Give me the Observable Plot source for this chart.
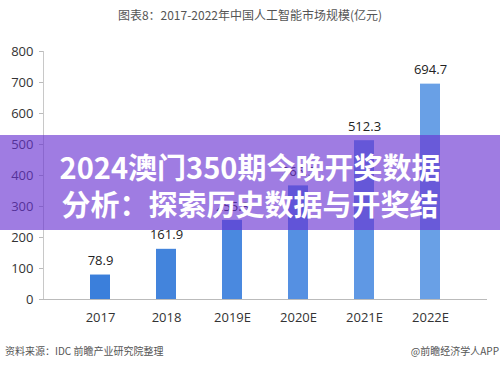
<!DOCTYPE html>
<html><head><meta charset="utf-8">
<script src="https://cdn.jsdelivr.net/npm/d3@7"></script>
<script src="https://cdn.jsdelivr.net/npm/@observablehq/plot@0.6"></script>
<style>
body{margin:0;background:#fff;}
#wrap{position:relative;width:500px;height:367px;overflow:hidden;font-family:"Noto Sans CJK SC","Noto Sans",sans-serif;}
#title{position:absolute;top:6px;left:0;width:500px;text-align:center;font-size:12px;color:#555;}
#src{position:absolute;top:343px;left:5px;font-size:10px;color:#555;}
#app{position:absolute;top:343px;right:1px;font-size:10px;color:#555;}
#banner{position:absolute;top:135px;left:0;width:500px;height:95px;background:rgba(105,50,210,0.64);}
#btext{position:absolute;top:148px;left:0;width:500px;text-align:center;color:#fff;font-weight:bold;font-size:29px;line-height:37px;font-family:"Noto Sans CJK SC",sans-serif;}
#chart{position:absolute;top:0;left:0;}
</style></head>
<body>
<div id="wrap">
<div id="chart"></div>
<div id="title">图表8：2017-2022年中国人工智能市场规模(亿元)</div>
<div id="banner"></div>
<div id="btext">2024澳门350期今晚开奖数据<br>分析：探索历史数据与开奖结</div>
<div id="src">资料来源：IDC 前瞻产业研究院整理</div>
<div id="app">@前瞻经济学人APP</div>
</div>
<script>
const years = ["2017","2018","2019E","2020E","2021E","2022E"];
const values = [78.9, 161.9, 255.3, 366.5, 512.3, 694.7];
const yTicks = [0,100,200,300,400,500,600,700,800];
const barColors = ["#3b7fdb","#4384dc","#4a89df","#5590e2","#5f98e4","#69a0e6"];

const data = years.map((y,i)=>({year:y, value:values[i], color:barColors[i]}));

const chart = Plot.plot({
  width:500, height:367,
  marginTop:51, marginBottom:68, marginLeft:43, marginRight:13,
  style:{fontFamily:"'Open Sans','Noto Sans CJK SC',sans-serif", fontSize:"13px", color:"#333", background:"transparent"},
  x:{domain:years, padding:0.69, label:null},
  y:{domain:[0,800], label:null},
  marks:[
    Plot.barY(data,{x:"year", y:"value", fill:d=>d.color}),
    Plot.frame({anchor:"left", stroke:"#c8c8c8"}),
    Plot.ruleY([0],{stroke:"#bbb"}),
    Plot.axisY({ticks:yTicks, tickSize:4, tickPadding:6, stroke:"#bbb", fill:"#333", fontSize:13, label:null}),
    Plot.axisX({tickSize:0, tickPadding:13, fill:"#333", fontSize:13, label:null}),
    Plot.text(data,{x:"year", y:"value", text:d=>d.value.toFixed(1), dy:-14, fontSize:13, fill:"#222"})
  ]
});
document.getElementById("chart").appendChild(chart);
</script>
</body></html>
